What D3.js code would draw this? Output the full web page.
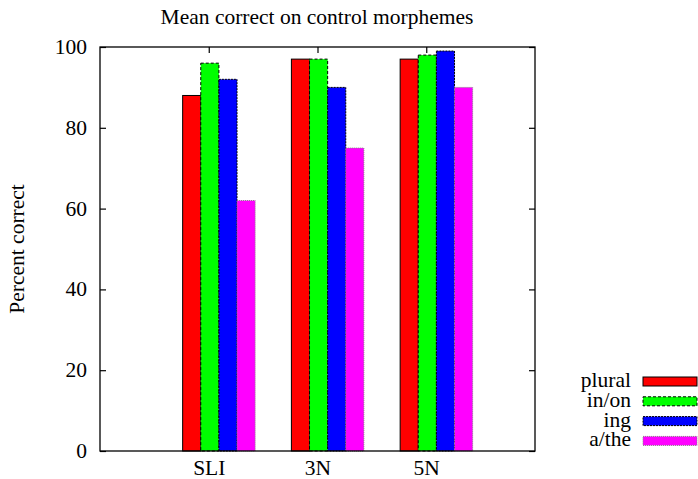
<!DOCTYPE html>
<html>
<head>
<meta charset="utf-8">
<script src="https://cdn.jsdelivr.net/npm/d3@7"></script>
<style>
  body { margin: 0; background: #fff; }
  svg text { font-family: "Liberation Serif", "Times New Roman", serif; fill: #000; font-size: 21.5px; }
</style>
</head>
<body>
<svg id="chart" width="698" height="479"></svg>
<script>
const groups = ["SLI", "3N", "5N"];
const seriesNames = ["plural", "in/on", "ing", "a/the"];
const plural = [88, 97, 97];
const inOn = [96, 97, 98];
const ing = [92, 90, 99];
const aThe = [62, 75, 90];
const yTicks = [0, 20, 40, 60, 80, 100];

const seriesValues = [plural, inOn, ing, aThe];
const colors = ["#ff0000", "#00ff00", "#0000ff", "#ff00ff"];
const strokes = ["#000", "#000", "#000", "#888"];
const dashes = [null, "3,2", "2,1", "1,1"];

const svg = d3.select("#chart");
const plotL = 100, plotR = 535, plotT = 47, plotB = 451;

const x = d3.scaleLinear().domain([-1, 3]).range([plotL, plotR]);
const y = d3.scaleLinear().domain([0, 100]).range([plotB, plotT]);

const barW = 1 / 6;
const offset0 = -0.24;

// bars
seriesValues.forEach((vals, s) => {
  svg.append("g")
    .selectAll("rect")
    .data(vals)
    .join("rect")
    .attr("x", (d, i) => x(i + offset0 + s * barW))
    .attr("y", (d) => y(d))
    .attr("width", x(barW) - x(0))
    .attr("height", (d) => y(0) - y(d))
    .attr("fill", colors[s])
    .attr("stroke", strokes[s])
    .attr("stroke-width", 1)
    .attr("stroke-dasharray", dashes[s]);
});

// frame
svg.append("rect")
  .attr("x", plotL).attr("y", plotT)
  .attr("width", plotR - plotL).attr("height", plotB - plotT)
  .attr("fill", "none").attr("stroke", "#000").attr("stroke-width", 1.3);

// y axis ticks (inward, mirrored)
const yAxisL = d3.axisLeft(y).tickValues(yTicks).tickSize(-6).tickPadding(13);
const gy = svg.append("g").attr("transform", `translate(${plotL},0)`).call(yAxisL);
gy.select(".domain").remove();
gy.attr("font-size", null).attr("font-family", null);
gy.selectAll("text").attr("dy", "0.3em");

const yAxisR = d3.axisRight(y).tickValues(yTicks).tickSize(-6).tickFormat("");
const gyr = svg.append("g").attr("transform", `translate(${plotR},0)`).call(yAxisR);
gyr.select(".domain").remove();

// x ticks on top, labels at bottom
const xAxisT = d3.axisTop(x).tickValues([0, 1, 2]).tickSize(-6).tickFormat("");
const gxt = svg.append("g").attr("transform", `translate(0,${plotT})`).call(xAxisT);
gxt.select(".domain").remove();

const xAxisB = d3.axisBottom(x).tickValues([0, 1, 2]).tickSize(0).tickPadding(24)
  .tickFormat((d) => groups[d]);
const gxb = svg.append("g").attr("transform", `translate(0,${plotB})`).call(xAxisB);
gxb.select(".domain").remove();
gxb.attr("font-size", null).attr("font-family", null);
gxb.selectAll("text").attr("dy", null);

svg.selectAll(".tick line").attr("stroke", "#000").attr("stroke-width", 1.2);

// title
svg.append("text")
  .attr("x", 317).attr("y", 24)
  .attr("text-anchor", "middle")
  .text("Mean correct on control morphemes");

// y label
svg.append("text")
  .attr("transform", `translate(24,${(plotT + plotB) / 2}) rotate(-90)`)
  .attr("text-anchor", "middle")
  .text("Percent correct");

// legend
const legend = svg.append("g");
seriesNames.forEach((name, s) => {
  const ly = 381.5 + s * 19.8;
  legend.append("text")
    .attr("x", 631).attr("y", ly + 5.5)
    .attr("text-anchor", "end")
    .text(name);
  legend.append("rect")
    .attr("x", 643).attr("y", ly - 4.5)
    .attr("width", 54).attr("height", 9)
    .attr("fill", colors[s])
    .attr("stroke", strokes[s])
    .attr("stroke-dasharray", dashes[s]);
});
</script>
</body>
</html>
